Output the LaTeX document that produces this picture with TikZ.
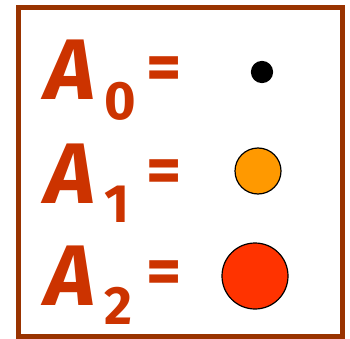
\documentclass[tikz,border=0pt]{standalone}
\usepackage{fontspec}
\setmainfont{Fira Sans}
\usepackage{tikz}
\usetikzlibrary{positioning}
\definecolor{FrameBrown}{HTML}{993300}
\definecolor{LabelRed}{HTML}{CC3300}
\definecolor{DotOrange}{HTML}{FF9900}
\definecolor{DotRed}{HTML}{FF3300}
\tikzset{
  bigA/.style={inner sep=0pt,anchor=base west,color=LabelRed,
    font=\fontsize{86}{86}\selectfont\bfseries\itshape},
  subnum/.style={inner sep=0pt,anchor=base west,color=LabelRed,
    font=\fontsize{54}{54}\selectfont\bfseries},
  eqsign/.style={inner sep=0pt,color=LabelRed,
    font=\fontsize{68}{68}\selectfont\bfseries},
  dotmark/.style={circle,inner sep=0pt,draw=black,line width=1.2pt}
}
\begin{document}
\begin{tikzpicture}[x=1pt,y=-1pt]
  \useasboundingbox (0,0) rectangle (350,339);
  % frame
  \draw[line width=5pt,color=FrameBrown] (18.5,7.5) rectangle (342.5,336.5);

  % row 0
  \node[bigA] (a0) at (45,100) {A};
  \node[subnum] (s0) at (104,120) {0};
  \node[eqsign] (eq0) at (164,74) {=};
  \node[dotmark,fill=black,minimum size=21pt] (dot0) at (262,72) {};

  % row 1
  \node[bigA] (a1) at (45,203) {A};
  \node[subnum] (s1) at (104,222) {1};
  \node[eqsign] (eq1) at (164,177) {=};
  \node[dotmark,fill=DotOrange,minimum size=46pt] (dot1) at (258,171) {};

  % row 2
  \node[bigA] (a2) at (45,305) {A};
  \node[subnum] (s2) at (104,324) {2};
  \node[eqsign] (eq2) at (164,278) {=};
  \node[dotmark,fill=DotRed,minimum size=66pt] (dot2) at (255,276) {};
\end{tikzpicture}
\end{document}
